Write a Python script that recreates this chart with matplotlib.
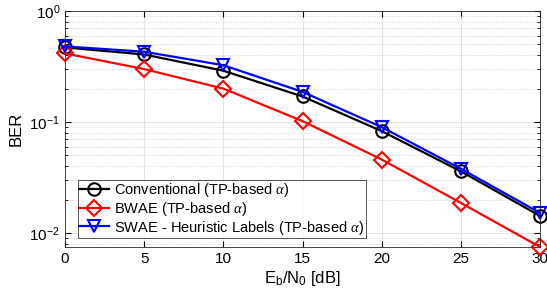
import matplotlib
matplotlib.use("Agg")
import matplotlib.pyplot as plt
import numpy as np

plt.rcParams["font.family"] = ["Liberation Sans", "DejaVu Sans"]
plt.rcParams["mathtext.fontset"] = "custom"
plt.rcParams["mathtext.rm"] = "Liberation Sans"
plt.rcParams["mathtext.it"] = "Liberation Serif:italic"

ebn0 = [0, 5, 10, 15, 20, 25, 30]
ber_conv = [0.47, 0.406, 0.29, 0.17, 0.083, 0.036, 0.0143]
ber_bwae = [0.415, 0.30, 0.20, 0.102, 0.046, 0.0187, 0.0075]
ber_swae = [0.48, 0.43, 0.325, 0.187, 0.090, 0.038, 0.0152]

labels = [
    r"Conventional (TP-based $\alpha$)",
    r"BWAE (TP-based $\alpha$)",
    r"SWAE - Heuristic Labels (TP-based $\alpha$)",
]

fig = plt.figure(figsize=(5.47, 3.01), dpi=100)
ax = fig.add_axes([65 / 547, 1 - 247 / 301, 475 / 547, 236 / 301])

style = dict(linewidth=1.6, markersize=9, markerfacecolor="none", markeredgewidth=1.5, clip_on=False)
ax.semilogy(ebn0, ber_conv, "-o", color="k", label=labels[0], **style)
ax.semilogy(ebn0, ber_bwae, "-D", color="r", label=labels[1], **{**style, "markersize": 8})
ax.semilogy(ebn0, ber_swae, "-v", color="b", label=labels[2], **style)

ax.set_xlim(0, 30)
ax.set_ylim(0.0075, 1)
ax.set_xticks([0, 5, 10, 15, 20, 25, 30])
ax.grid(True, which="major", color="#dedede", linewidth=0.6)
ax.grid(True, which="minor", axis="y", color="#cccccc", linestyle=":", linewidth=0.6)
ax.tick_params(which="both", direction="in", top=True, right=True, labelsize=11)
ax.tick_params(which="major", length=4)
ax.tick_params(which="minor", length=2)
for s in ax.spines.values():
    s.set_linewidth(0.6)
    s.set_color("#262626")

ax.set_xlabel(r"E$_\mathrm{b}$/N$_0$ [dB]", fontsize=12, labelpad=2)
ax.set_ylabel("BER", fontsize=12, labelpad=4)

leg = ax.legend(loc="lower left", bbox_to_anchor=(13 / 475, 9 / 236), fontsize=10.5,
                frameon=True, fancybox=False, edgecolor="#262626",
                handlelength=2.0, handletextpad=0.4, borderpad=0.1,
                labelspacing=0.05, borderaxespad=0)
leg.get_frame().set_linewidth(0.7)

fig.savefig("out.png", dpi=100)
